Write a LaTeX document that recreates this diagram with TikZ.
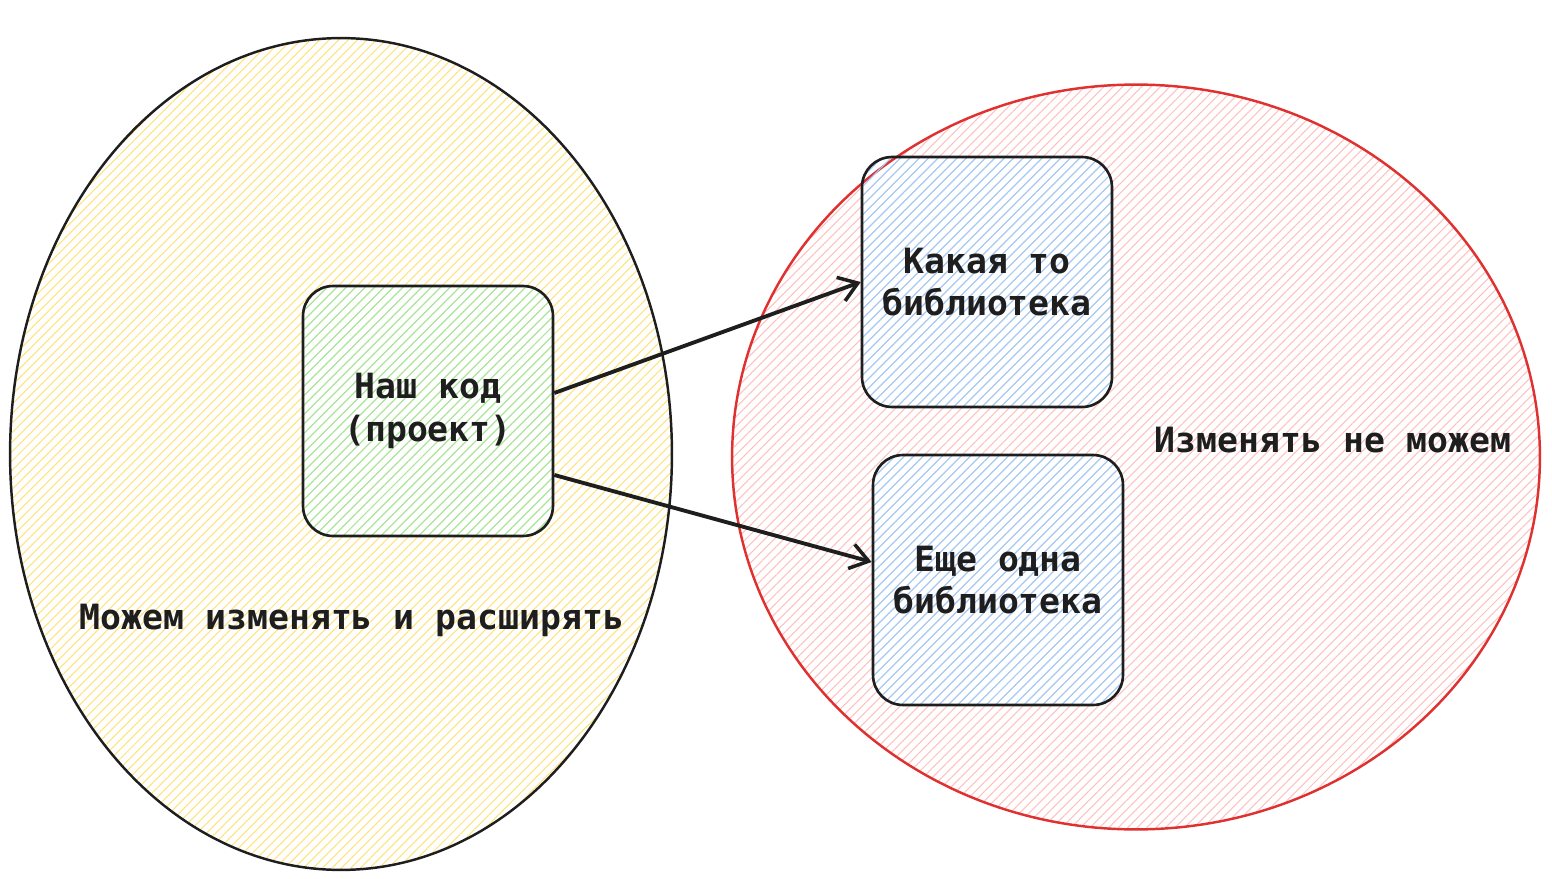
\documentclass[tikz,border=0pt]{standalone}
\usepackage{fontspec}
\setmonofont{DejaVu Sans Mono}
\usetikzlibrary{shapes.geometric,patterns.meta,arrows.meta}
\definecolor{ink}{HTML}{1E1E1E}
\definecolor{redline}{HTML}{E03131}
\definecolor{yellowhatch}{HTML}{FFE27A}
\definecolor{redhatch}{HTML}{FFC0C0}
\definecolor{greenhatch}{HTML}{9EE8AA}
\definecolor{bluehatch}{HTML}{99CFFF}
\begin{document}
\begin{tikzpicture}[x=0.02cm, y=-0.02cm,
  hatch/.style={pattern={Lines[angle=45, distance=3.8pt, line width=0.6pt]}, pattern color=#1},
  area/.style={ellipse, draw, line width=1.4pt},
  box/.style={draw=ink, rounded corners=0.6cm, line width=1.5pt, minimum width=5cm, minimum height=5cm, align=center, font=\ttfamily\bfseries\fontsize{19.8}{24}\selectfont, text=ink},
  label/.style={font=\ttfamily\bfseries\fontsize{19.8}{24}\selectfont, text=ink},
  arrow/.style={-{Straight Barb[length=0.36cm, width=0.5cm, line width=2pt]}, line width=2.2pt, draw=ink}
]
\useasboundingbox (0,0) rectangle (1552,879);
\node[area, draw=ink, hatch=yellowhatch, minimum width=13.24cm, minimum height=16.64cm] (mine) at (341,454) {};
\node[area, draw=redline, hatch=redhatch, minimum width=16.16cm, minimum height=14.9cm] (theirs) at (1136,457) {};
\node[box, hatch=greenhatch] (ours) at (428,411) {Наш код\\(проект)};
\node[box, hatch=bluehatch] (lib) at (987,282) {Какая то\\библиотека};
\node[box, hatch=bluehatch] (other) at (998,580) {Еще одна\\библиотека};
\node[label] (canchange) at (352,620) {Можем изменять и расширять};
\node[label] (cannot) at (1333,440) {Изменять не можем};
\draw[arrow] ([yshift=0.36cm]ours.east) -- (lib.west);
\draw[arrow] ([yshift=-1.28cm]ours.east) -- ([yshift=0.36cm]other.west);
\end{tikzpicture}
\end{document}
